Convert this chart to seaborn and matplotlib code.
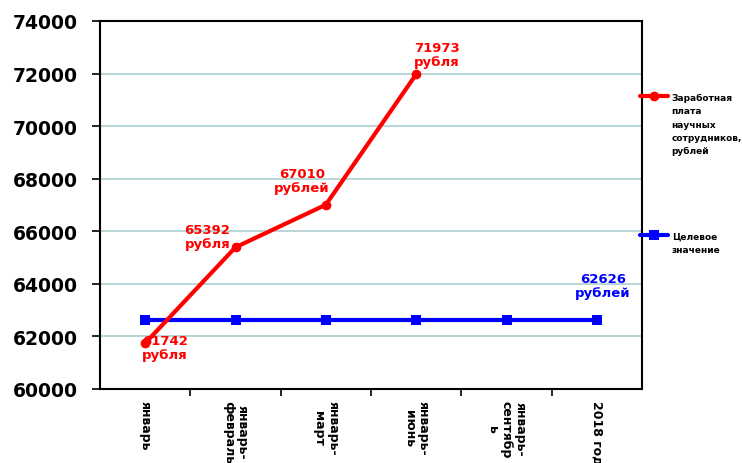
import matplotlib
matplotlib.use('Agg')
import matplotlib.pyplot as plt
import seaborn as sns
import pandas as pd

# data
periods = ['январь', 'январь-\nфевраль', 'январь-\nмарт', 'январь-\nиюнь',
           'январь-\nсентябр\nь', '2018 год']
salary = [61742, 65392, 67010, 71973]
target = [62626, 62626, 62626, 62626, 62626, 62626]
salary_labels = ['61742\nрубля', '65392\nрубля', '67010\nрублей', '71973\nрубля']
target_label = '62626\nрублей'
salary_name = 'Заработная\nплата\nнаучных\nсотрудников,\nрублей'
target_name = 'Целевое\nзначение'

sns.set_style('white')
plt.rcParams['font.family'] = ['DejaVu Sans']
plt.rcParams['font.weight'] = 'bold'
plt.rcParams['text.color'] = 'black'
plt.rcParams['xtick.color'] = 'black'
plt.rcParams['ytick.color'] = 'black'

salary_df = pd.DataFrame({'pos': range(len(salary)), 'value': salary})
target_df = pd.DataFrame({'pos': range(len(target)), 'value': target})

fig = plt.figure(figsize=(7.42, 4.64), dpi=100)
ax = fig.add_axes([100 / 742, 1 - 390 / 464, 542 / 742, 368 / 464])

sns.lineplot(data=salary_df, x='pos', y='value', ax=ax, color='#ff0000', lw=3,
             marker='o', markersize=7, markeredgewidth=0, label=salary_name, zorder=4)
sns.lineplot(data=target_df, x='pos', y='value', ax=ax, color='#0000ff', lw=3,
             marker='s', markersize=6.5, markeredgewidth=0, label=target_name, zorder=3)

# value labels
offsets = [(20, -4), (-28, 11), (-24, 24), (21, 20)]
for i, (txt, off) in enumerate(zip(salary_labels, offsets)):
    ax.annotate(txt, (i, salary[i]), xytext=off, textcoords='offset pixels',
                ha='center', va='center', color='#ff0000', fontsize=9.5,
                fontweight='bold', linespacing=1.1)
ax.annotate(target_label, (len(target) - 1, target[-1]), xytext=(6, 34),
            textcoords='offset pixels', ha='center', va='center', color='#0000ff',
            fontsize=9.5, fontweight='bold', linespacing=1.1)

ax.set_xlim(-0.5, len(periods) - 0.5)
ax.set_ylim(60000, 74000)
ax.set_yticks(range(60000, 74001, 2000))
ax.set_yticklabels([str(v) for v in range(60000, 74001, 2000)], fontsize=13.5,
                   fontweight='bold')
ax.set_xticks(range(len(periods)))
ax.set_xticklabels(periods, rotation=-90, fontsize=9, fontweight='bold',
                   va='top', ha='center', linespacing=1.1)
ax.set_xticks([p + 0.5 for p in range(len(periods) - 1)], minor=True)
ax.tick_params(axis='x', which='major', length=0, pad=8)
ax.tick_params(axis='x', which='minor', length=5, width=1.2, direction='out',
               bottom=True, color='black')
ax.tick_params(axis='y', length=6, width=1.2, direction='out', left=True,
               pad=10, color='black')
ax.set_xlabel('')
ax.set_ylabel('')

ax.yaxis.grid(True, color='#b4d2d2', lw=1.3)
ax.set_axisbelow(True)
for s in ax.spines.values():
    s.set_visible(True)
    s.set_color('black')
    s.set_linewidth(1.5)


def side_legend(handle, label, top):
    leg = ax.legend([handle], [label], loc='upper left', bbox_to_anchor=(0.9897, top),
                    frameon=False, handlelength=3.1, handletextpad=0.4,
                    borderaxespad=0, prop={'size': 6.5, 'weight': 'bold'})
    for t in leg.get_texts():
        t.set_linespacing(1.6)
    # put the marker at the first line of the label
    for col in leg._legend_handle_box.get_children():
        for row in col.get_children():
            row.align = 'top'
    return leg


h, l = ax.get_legend_handles_labels()
ax.add_artist(side_legend(h[0], l[0], 0.8139))
side_legend(h[1], l[1], 0.4363)

fig.savefig('out.png', dpi=100)
